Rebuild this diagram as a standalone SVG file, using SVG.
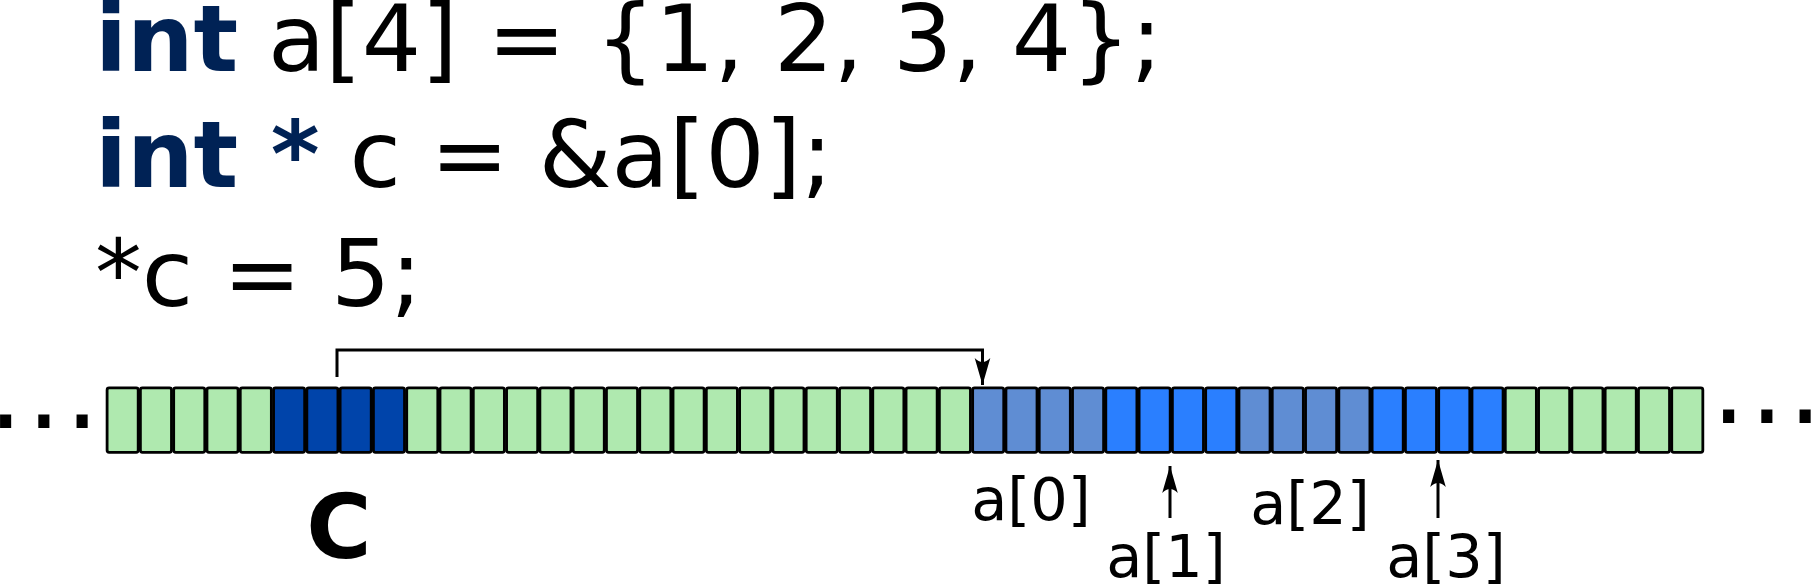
<svg xmlns="http://www.w3.org/2000/svg" width="1812" height="586" viewBox="0 0 1812 586">
  <style>
    .code { font-family: "DejaVu Sans", "Liberation Sans", sans-serif; font-size: 93.5px; fill: #000000; }
    .kw { font-weight: bold; fill: #002255; }
    .lbl { font-family: "DejaVu Sans", "Liberation Sans", sans-serif; font-size: 59px; fill: #000000; text-anchor: middle; }
    .big { font-family: "DejaVu Sans", "Liberation Sans", sans-serif; font-size: 89px; font-weight: bold; fill: #000000; text-anchor: middle; }
    .dots { font-family: "DejaVu Sans", "Liberation Sans", sans-serif; font-size: 108px; letter-spacing: 4px; fill: #000000; }
    .cell { stroke: #000000; stroke-width: 2.8; }
    .g { fill: #afe9af; }
    .d { fill: #0044aa; }
    .m { fill: #5f8dd3; }
    .b { fill: #2a7fff; }
    .conn { fill: none; stroke: #000000; stroke-width: 3; }
  </style>
  <defs>
    <marker id="arrow" markerUnits="userSpaceOnUse" viewBox="-28 -9 29 18" refX="0" refY="0" markerWidth="29" markerHeight="18" orient="auto">
      <path d="M0,0 L-27,-7.8 Q-19,0 -27,7.8 Z" fill="#000000"/>
    </marker>
  </defs>

  <g id="code">
    <text class="code" x="95" y="71"><tspan class="kw">int</tspan> a[4] = {1, 2, 3, 4};</text>
    <text class="code" x="95" y="187"><tspan class="kw">int *</tspan> c = &amp;a[0];</text>
    <text class="code" x="95" y="306">*c = 5;</text>
  </g>

  <g id="ellipsis-left">
    <text class="dots" x="-11.6" y="428">...</text>
  </g>
  <g id="ellipsis-right">
    <text class="dots" x="1711.4" y="423">...</text>
  </g>

  <g id="mem-left">
    <rect class="cell g" x="107.10" y="387.9" width="31.1" height="64.4" rx="2"/>
    <rect class="cell g" x="140.39" y="387.9" width="31.1" height="64.4" rx="2"/>
    <rect class="cell g" x="173.68" y="387.9" width="31.1" height="64.4" rx="2"/>
    <rect class="cell g" x="206.97" y="387.9" width="31.1" height="64.4" rx="2"/>
    <rect class="cell g" x="240.26" y="387.9" width="31.1" height="64.4" rx="2"/>
  </g>

  <g id="var-c">
    <rect class="cell d" x="273.55" y="387.9" width="31.1" height="64.4" rx="2"/>
    <rect class="cell d" x="306.84" y="387.9" width="31.1" height="64.4" rx="2"/>
    <rect class="cell d" x="340.13" y="387.9" width="31.1" height="64.4" rx="2"/>
    <rect class="cell d" x="373.42" y="387.9" width="31.1" height="64.4" rx="2"/>
    <text class="big" x="339" y="558">C</text>
  </g>

  <g id="mem-mid">
    <rect class="cell g" x="406.71" y="387.9" width="31.1" height="64.4" rx="2"/>
    <rect class="cell g" x="440.00" y="387.9" width="31.1" height="64.4" rx="2"/>
    <rect class="cell g" x="473.29" y="387.9" width="31.1" height="64.4" rx="2"/>
    <rect class="cell g" x="506.58" y="387.9" width="31.1" height="64.4" rx="2"/>
    <rect class="cell g" x="539.87" y="387.9" width="31.1" height="64.4" rx="2"/>
    <rect class="cell g" x="573.16" y="387.9" width="31.1" height="64.4" rx="2"/>
    <rect class="cell g" x="606.45" y="387.9" width="31.1" height="64.4" rx="2"/>
    <rect class="cell g" x="639.74" y="387.9" width="31.1" height="64.4" rx="2"/>
    <rect class="cell g" x="673.03" y="387.9" width="31.1" height="64.4" rx="2"/>
    <rect class="cell g" x="706.32" y="387.9" width="31.1" height="64.4" rx="2"/>
    <rect class="cell g" x="739.61" y="387.9" width="31.1" height="64.4" rx="2"/>
    <rect class="cell g" x="772.90" y="387.9" width="31.1" height="64.4" rx="2"/>
    <rect class="cell g" x="806.19" y="387.9" width="31.1" height="64.4" rx="2"/>
    <rect class="cell g" x="839.48" y="387.9" width="31.1" height="64.4" rx="2"/>
    <rect class="cell g" x="872.77" y="387.9" width="31.1" height="64.4" rx="2"/>
    <rect class="cell g" x="906.06" y="387.9" width="31.1" height="64.4" rx="2"/>
    <rect class="cell g" x="939.35" y="387.9" width="31.1" height="64.4" rx="2"/>
  </g>

  <g id="a0">
    <rect class="cell m" x="972.64" y="387.9" width="31.1" height="64.4" rx="2"/>
    <rect class="cell m" x="1005.93" y="387.9" width="31.1" height="64.4" rx="2"/>
    <rect class="cell m" x="1039.22" y="387.9" width="31.1" height="64.4" rx="2"/>
    <rect class="cell m" x="1072.51" y="387.9" width="31.1" height="64.4" rx="2"/>
    <text class="lbl" x="1031" y="520">a[0]</text>
  </g>

  <g id="a1">
    <rect class="cell b" x="1105.80" y="387.9" width="31.1" height="64.4" rx="2"/>
    <rect class="cell b" x="1139.09" y="387.9" width="31.1" height="64.4" rx="2"/>
    <rect class="cell b" x="1172.38" y="387.9" width="31.1" height="64.4" rx="2"/>
    <rect class="cell b" x="1205.67" y="387.9" width="31.1" height="64.4" rx="2"/>
    <text class="lbl" x="1166" y="577">a[1]</text>
  </g>

  <g id="a2">
    <rect class="cell m" x="1238.96" y="387.9" width="31.1" height="64.4" rx="2"/>
    <rect class="cell m" x="1272.25" y="387.9" width="31.1" height="64.4" rx="2"/>
    <rect class="cell m" x="1305.54" y="387.9" width="31.1" height="64.4" rx="2"/>
    <rect class="cell m" x="1338.83" y="387.9" width="31.1" height="64.4" rx="2"/>
    <text class="lbl" x="1310" y="524">a[2]</text>
  </g>

  <g id="a3">
    <rect class="cell b" x="1372.12" y="387.9" width="31.1" height="64.4" rx="2"/>
    <rect class="cell b" x="1405.41" y="387.9" width="31.1" height="64.4" rx="2"/>
    <rect class="cell b" x="1438.70" y="387.9" width="31.1" height="64.4" rx="2"/>
    <rect class="cell b" x="1471.99" y="387.9" width="31.1" height="64.4" rx="2"/>
    <text class="lbl" x="1446" y="577">a[3]</text>
  </g>

  <g id="mem-right">
    <rect class="cell g" x="1505.28" y="387.9" width="31.1" height="64.4" rx="2"/>
    <rect class="cell g" x="1538.57" y="387.9" width="31.1" height="64.4" rx="2"/>
    <rect class="cell g" x="1571.86" y="387.9" width="31.1" height="64.4" rx="2"/>
    <rect class="cell g" x="1605.15" y="387.9" width="31.1" height="64.4" rx="2"/>
    <rect class="cell g" x="1638.44" y="387.9" width="31.1" height="64.4" rx="2"/>
    <rect class="cell g" x="1671.73" y="387.9" width="31.1" height="64.4" rx="2"/>
  </g>

  <g id="connectors">
    <path class="conn" d="M337,377 V350 H982.5 V385" marker-end="url(#arrow)"/>
    <path class="conn" d="M1170,518 V466" marker-end="url(#arrow)"/>
    <path class="conn" d="M1438,518 V460" marker-end="url(#arrow)"/>
  </g>
</svg>
